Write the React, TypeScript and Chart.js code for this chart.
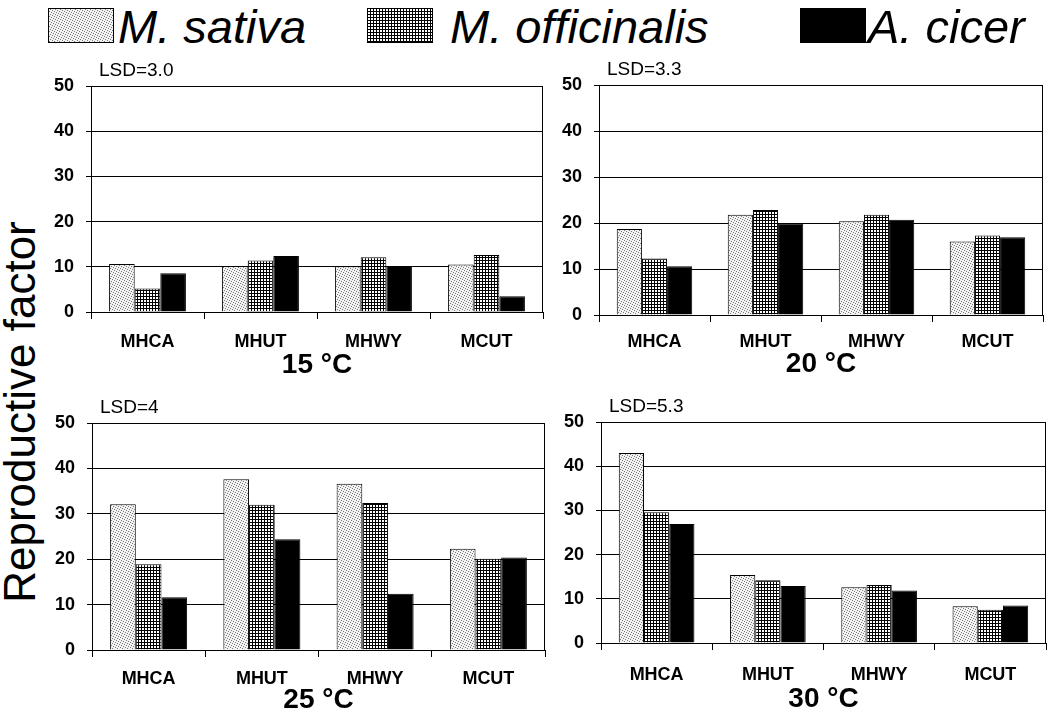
import React, { useEffect, useRef } from "react";
import { Chart, registerables } from "chart.js";
Chart.register(...registerables);

// ---------- data ----------
const categories = ["MHCA", "MHUT", "MHWY", "MCUT"];
const seriesNames = ["M. sativa", "M. officinalis", "A. cicer"];
const panelTitles = ["15 °C", "20 °C", "25 °C", "30 °C"];
const lsdLabels = ["LSD=3.0", "LSD=3.3", "LSD=4", "LSD=5.3"];
const yTickValues = [0, 10, 20, 30, 40, 50];
const yAxisLabel = "Reproductive factor";

const sativa15 = [10.6, 10.2, 10.1, 10.5];
const officinalis15 = [5.2, 11.4, 12.1, 12.6];
const cicer15 = [8.6, 12.4, 10.2, 3.5];

const sativa20 = [18.7, 21.8, 20.4, 16.0];
const officinalis20 = [12.3, 22.8, 21.8, 17.3];
const cicer20 = [10.6, 19.9, 20.7, 16.9];

const sativa25 = [32.1, 37.6, 36.6, 22.3];
const officinalis25 = [18.9, 32.0, 32.4, 20.1];
const cicer25 = [11.6, 24.4, 12.4, 20.4];

const sativa30 = [43.0, 15.4, 12.6, 8.3];
const officinalis30 = [29.6, 14.2, 13.1, 7.5];
const cicer30 = [26.9, 12.9, 11.9, 8.5];

const panelSeries = [
  [sativa15, officinalis15, cicer15],
  [sativa20, officinalis20, cicer20],
  [sativa25, officinalis25, cicer25],
  [sativa30, officinalis30, cicer30],
];

// ---------- layout (positions of plot areas on the page) ----------
const panelBoxes = [
  { left: 91, top: 86, right: 543, bottom: 312, xPad: 12, titleDy: 53 },
  { left: 599, top: 85, right: 1043, bottom: 315, xPad: 9, titleDy: 49 },
  { left: 92, top: 423, right: 545, bottom: 650, xPad: 11, titleDy: 50 },
  { left: 601, top: 422, right: 1046, bottom: 643, xPad: 14, titleDy: 56 },
];
const WY = 50;
const PT = 30;
const PR = 6;
const HX = 40;
const PB = 40;
const FONT = '"Liberation Sans", Arial, Helvetica, sans-serif';

// ---------- patterns ----------
function makeTile(kind: number): HTMLCanvasElement {
  const c = document.createElement("canvas");
  if (kind === 0) {
    c.width = 5;
    c.height = 5;
    const g = c.getContext("2d")!;
    g.fillStyle = "#f2f2f2";
    g.fillRect(0, 0, 5, 5);
    g.fillStyle = "#7a7a7a";
    const pts = [
      [0, 0],
      [2, 1],
      [4, 2],
      [1, 3],
      [3, 4],
    ];
    pts.forEach(([x, y]) => g.fillRect(x, y, 1, 1));
  } else if (kind === 1) {
    c.width = 3;
    c.height = 3;
    const g = c.getContext("2d")!;
    g.fillStyle = "#000";
    g.fillRect(0, 0, 3, 3);
    g.fillStyle = "#fff";
    g.fillRect(1, 1, 2, 2);
  } else {
    c.width = 2;
    c.height = 2;
    const g = c.getContext("2d")!;
    g.fillStyle = "#000";
    g.fillRect(0, 0, 2, 2);
  }
  return c;
}

function makeFill(ctx: CanvasRenderingContext2D, kind: number) {
  return ctx.createPattern(makeTile(kind), "repeat")!;
}

const panelDecor = {
  id: "panelDecor",
  afterDraw(chart: any, _args: any, opts: any) {
    const { ctx, chartArea: a } = chart;
    ctx.save();
    ctx.strokeStyle = "#000";
    ctx.lineWidth = 1;
    ctx.beginPath();
    ctx.moveTo(Math.round(a.right) - 0.5, a.top);
    ctx.lineTo(Math.round(a.right) - 0.5, a.bottom);
    ctx.stroke();
    ctx.fillStyle = "#000";
    ctx.textBaseline = "middle";
    ctx.textAlign = "left";
    ctx.font = `19px ${FONT}`;
    ctx.fillText(opts.lsd, a.left + 8, a.top - 15);
    ctx.textAlign = "center";
    ctx.font = `bold 28px ${FONT}`;
    ctx.fillText(opts.title, (a.left + a.right) / 2, a.bottom + opts.titleDy);
    ctx.restore();
  },
};

function Panel({ index }: { index: number }) {
  const ref = useRef<HTMLCanvasElement>(null);
  const box = panelBoxes[index];
  const w = box.right - box.left + WY + PR;
  const h = box.bottom - box.top + PT + HX + PB;
  useEffect(() => {
    const canvas = ref.current!;
    const ctx = canvas.getContext("2d")!;
    const chart = new Chart(canvas, {
      type: "bar",
      data: {
        labels: categories,
        datasets: panelSeries[index].map((vals, k) => ({
          label: seriesNames[k],
          data: vals,
          backgroundColor: makeFill(ctx, k),
          borderColor: "#000",
          borderWidth: 1,
          categoryPercentage: 0.68,
          barPercentage: 1.0,
        })),
      },
      options: {
        animation: false,
        responsive: false,
        devicePixelRatio: 1,
        layout: { padding: { top: PT, right: PR, bottom: PB, left: 0 } },
        plugins: {
          legend: { display: false },
          tooltip: { enabled: false },
          panelDecor: { lsd: lsdLabels[index], title: panelTitles[index], titleDy: box.titleDy },
        } as any,
        scales: {
          x: {
            afterFit: (s: any) => {
              s.height = HX;
            },
            grid: {
              offset: true,
              drawOnChartArea: false,
              drawTicks: true,
              tickLength: 7,
              color: "#000",
            },
            border: { display: true, color: "#000", width: 1 },
            ticks: {
              color: "#000",
              font: { family: FONT, size: 18, weight: "bold" },
              padding: box.xPad,
              maxRotation: 0,
            },
          },
          y: {
            min: 0,
            max: 50,
            afterFit: (s: any) => {
              s.width = WY;
            },
            afterBuildTicks: (s: any) => {
              s.ticks = yTickValues.map((v) => ({ value: v }));
            },
            grid: { color: "#000", lineWidth: 1, drawTicks: true, tickLength: 5 },
            border: { display: true, color: "#000", width: 1 },
            ticks: {
              color: "#000",
              font: { family: FONT, size: 18, weight: "bold" },
              padding: 12,
            },
          },
        },
      },
      plugins: [panelDecor],
    });
    return () => chart.destroy();
  }, [index]);
  return (
    <canvas
      ref={ref}
      width={w}
      height={h}
      style={{
        position: "absolute",
        left: box.left - WY,
        top: box.top - PT,
        width: w,
        height: h,
      }}
    />
  );
}

function Swatch({ kind }: { kind: number }) {
  const ref = useRef<HTMLCanvasElement>(null);
  useEffect(() => {
    const c = ref.current!;
    const g = c.getContext("2d")!;
    g.fillStyle = makeFill(g, kind);
    g.fillRect(0, 0, c.width, c.height);
    g.strokeStyle = "#000";
    g.lineWidth = 1;
    g.strokeRect(0.5, 0.5, c.width - 1, c.height - 1);
  }, [kind]);
  return <canvas ref={ref} width={66} height={35} style={{ display: "block" }} />;
}

const legendBoxLefts = [48, 367, 800];
const legendTextLefts = [118, 450, 868];

export default function App() {
  return (
    <div
      style={{
        position: "absolute",
        left: 0,
        top: 0,
        width: 1064,
        height: 714,
        background: "#fff",
        overflow: "hidden",
        fontFamily: FONT,
      }}
    >
      {seriesNames.map((name, k) => (
        <React.Fragment key={name}>
          <div style={{ position: "absolute", left: legendBoxLefts[k], top: 8 }}>
            <Swatch kind={k} />
          </div>
          <div
            style={{
              position: "absolute",
              left: legendTextLefts[k],
              top: 4,
              fontStyle: "italic",
              fontSize: 47,
              lineHeight: "46px",
              color: "#000",
              whiteSpace: "nowrap",
            }}
          >
            {name}
          </div>
        </React.Fragment>
      ))}
      <div
        style={{
          position: "absolute",
          left: 20 - 250,
          top: 412 - 24,
          width: 500,
          height: 48,
          lineHeight: "48px",
          fontSize: 44,
          textAlign: "center",
          transform: "rotate(-90deg)",
          color: "#000",
          whiteSpace: "nowrap",
        }}
      >
        {yAxisLabel}
      </div>
      {panelBoxes.map((_, i) => (
        <Panel key={i} index={i} />
      ))}
    </div>
  );
}
